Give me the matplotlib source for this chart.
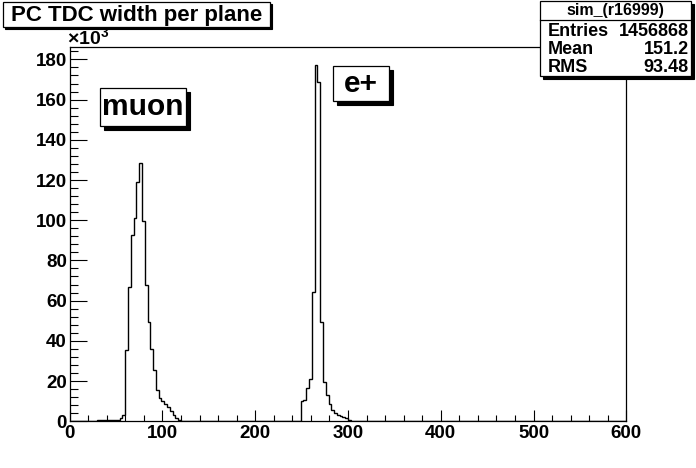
import numpy as np
import matplotlib
matplotlib.use("Agg")
import matplotlib.pyplot as plt
from matplotlib.patches import Rectangle
from matplotlib.ticker import MultipleLocator

plt.rcParams['font.family'] = ['Liberation Sans', 'DejaVu Sans']
plt.rcParams['font.weight'] = 'bold'
plt.rcParams['mathtext.fontset'] = 'custom'
plt.rcParams['mathtext.rm'] = 'Liberation Sans:bold'
plt.rcParams['mathtext.it'] = 'Liberation Sans:bold'
plt.rcParams['mathtext.bf'] = 'Liberation Sans:bold'

# histogram: 200 bins over 0..600, counts in thousands
n_bins = 200
x_min, x_max = 0, 600

muon_first_edge = 30
muon_counts_k = [0.4, 0.4, 0.4, 0.4, 0.4, 0.4, 0.4, 0.8, 1.8, 3.3,
                 35.6, 66.8, 92.8, 101.0, 119.0, 128.6, 99.5, 68.0, 49.4, 35.8,
                 25.4, 15.5, 11.5, 10.0, 8.8, 7.2, 5.0, 3.3, 1.8, 0.7]

eplus_first_edge = 249
eplus_counts_k = [9.9, 10.4, 16.7, 21.2, 64.3, 177.4, 168.7, 49.4, 19.5, 12.9,
                  8.5, 5.5, 4.1, 3.0, 2.8, 2.3, 1.8, 0.7, 0.3]

title = "PC TDC width per plane"
stats_name = "sim_(r16999)"
stats_labels = ["Entries", "Mean", "RMS"]
stats_values = ["1456868", "151.2", "93.48"]
peak_names = ["muon", "e+"]

edges = np.linspace(x_min, x_max, n_bins + 1)
bw = (x_max - x_min) / n_bins
counts = np.zeros(n_bins)
i = int(round((muon_first_edge - x_min) / bw))
counts[i:i + len(muon_counts_k)] = muon_counts_k
i = int(round((eplus_first_edge - x_min) / bw))
counts[i:i + len(eplus_counts_k)] = eplus_counts_k

W, H = 696, 468
fig = plt.figure(figsize=(W / 100, H / 100), dpi=100)
fig.patch.set_facecolor('white')

def fx(x):
    return x / W

def fy(y):
    return 1 - y / H

ax = fig.add_axes([0.1, 0.1, 0.8, 0.8])
ax.stairs(counts, edges, color='black', lw=1.0)
ax.set_xlim(x_min, x_max)
ax.set_ylim(0, 1.05 * counts.max())

ax.xaxis.set_major_locator(MultipleLocator(100))
ax.xaxis.set_minor_locator(MultipleLocator(20))
ax.yaxis.set_major_locator(MultipleLocator(20))
ax.yaxis.set_minor_locator(MultipleLocator(4))
ax.tick_params(which='both', direction='in', top=False, right=False, width=0.8)
ax.tick_params(axis='x', which='major', length=8, labelsize=13.5, pad=3)
ax.tick_params(axis='x', which='minor', length=4)
ax.tick_params(axis='y', which='major', length=12, labelsize=13.5, pad=2)
ax.tick_params(axis='y', which='minor', length=6)
for lab in ax.get_xticklabels() + ax.get_yticklabels():
    lab.set_fontweight('bold')
for s in ax.spines.values():
    s.set_linewidth(0.9)

fig.text(fx(67), fy(44), r"×10$^{3}$", fontsize=14, ha='left', va='baseline')


def pave(x0, y0, x1, y1, shadow):
    fig.add_artist(Rectangle((fx(x0 + shadow), fy(y1 + shadow)), (x1 - x0) / W, (y1 - y0) / H,
                             transform=fig.transFigure, facecolor='black', edgecolor='black', lw=0.8))
    fig.add_artist(Rectangle((fx(x0), fy(y1)), (x1 - x0) / W, (y1 - y0) / H,
                             transform=fig.transFigure, facecolor='white', edgecolor='black', lw=0.9))


# title pave
pave(3, 2, 270, 27, 2)
fig.text(fx(137), fy(15), title, fontsize=16, ha='center', va='center')

# stats box
pave(540, 1, 691, 76, 3)
fig.add_artist(plt.Line2D([fx(540), fx(691)], [fy(20), fy(20)], transform=fig.transFigure,
                          color='black', lw=0.9))
fig.text(fx(615.5), fy(11), stats_name, fontsize=11.5, ha='center', va='center')
for k, (lab, val) in enumerate(zip(stats_labels, stats_values)):
    yy = 31 + k * 18.5
    fig.text(fx(548), fy(yy), lab, fontsize=13, ha='left', va='center')
    fig.text(fx(689), fy(yy), val, fontsize=13, ha='right', va='center')

# peak labels
pave(100, 88, 186, 126, 4)
fig.text(fx(143), fy(107), peak_names[0], fontsize=21.5, ha='center', va='center')
pave(333, 66, 389, 101, 4)
fig.text(fx(361), fy(84), peak_names[1], fontsize=21.5, ha='center', va='center')

fig.savefig("out.png", dpi=100)
